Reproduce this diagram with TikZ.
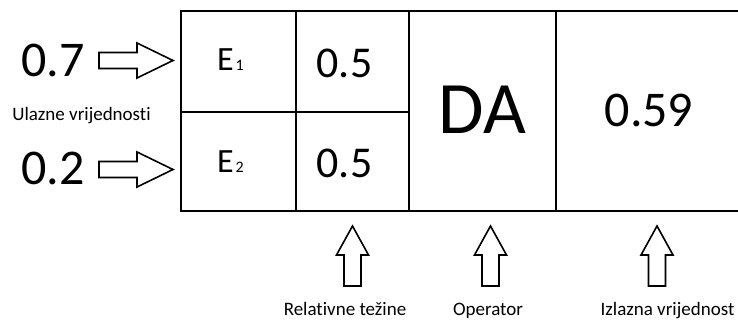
\documentclass[tikz,border=0pt]{standalone}
\usepackage{fontspec}
\setmainfont{Carlito}[Ligatures=NoCommon]
\begin{document}
\begin{tikzpicture}[x=1pt,y=-1pt,
  boxline/.style={line width=2pt,line cap=rect},
  arrline/.style={line width=1.6pt,line join=miter,fill=white},
  txt/.style={anchor=base,inner sep=0pt,outer sep=0pt},
  bigval/.style={txt,font=\fontsize{50}{50}\selectfont},
  midval/.style={txt,font=\fontsize{44}{44}\selectfont},
  label/.style={txt,font=\fontsize{19}{19}\selectfont},
  rarrow/.pic={\draw[arrline] (-37,-8) -- (1,-8) -- (1,-17.5) -- (37,0) -- (1,17.5) -- (1,8) -- (-37,8) -- cycle;},
  uarrow/.pic={\draw[arrline] (-8.5,31) -- (-8.5,0) -- (-16,0) -- (0,-29) -- (16,0) -- (8.5,0) -- (8.5,31) -- cycle;}
]
\useasboundingbox (0,0) rectangle (738,320);
% table frame
\coordinate (tl) at (181,11.5);
\coordinate (bl) at (181,211.5);
\coordinate (tr) at (738,11.5);
\coordinate (br) at (738,211.5);
\coordinate (ml) at (181,112);
\coordinate (mr) at (409,112);
\draw[boxline] (tr) -- (tl) -- (bl) -- (br);
\draw[boxline] (ml) -- (mr);
\draw[boxline] (296,11.5) -- (296,211.5);
\draw[boxline] (409,11.5) -- (409,211.5);
\draw[boxline] (556,11.5) -- (556,211.5);
% inputs
\node[bigval] (in1) at (53,77) {0.7};
\node[bigval] (in2) at (53,185) {0.2};
\node[label] (ulaz) at (81.5,120.5) {Ulazne vrijednosti};
\pic at (136,60.5) {rarrow};
\pic at (136,169.5) {rarrow};
% cells
\node[txt,anchor=base west,font=\fontsize{34}{34}\selectfont] (e1) at (217,71) {E\hspace{2pt}{\fontsize{16}{16}\selectfont 1}};
\node[txt,anchor=base west,font=\fontsize{34}{34}\selectfont] (e2) at (217,173) {E\hspace{2pt}{\fontsize{16}{16}\selectfont 2}};
\node[midval] (w1) at (344.5,78) {0.5};
\node[midval] (w2) at (344.5,178) {0.5};
\node[txt,font=\fontsize{74}{74}\selectfont] (op) at (482.5,134) {DA};
\node[bigval] (out) at (649,127) {0.59};
% bottom arrows and labels
\pic at (352.5,255) {uarrow};
\pic at (490.5,255) {uarrow};
\pic at (657,255) {uarrow};
\node[label] (rel) at (345,315.5) {Relativne težine};
\node[label] (oper) at (488,315.5) {Operator};
\node[label] (izl) at (667.5,315.5) {Izlazna vrijednost};
\end{tikzpicture}
\end{document}
